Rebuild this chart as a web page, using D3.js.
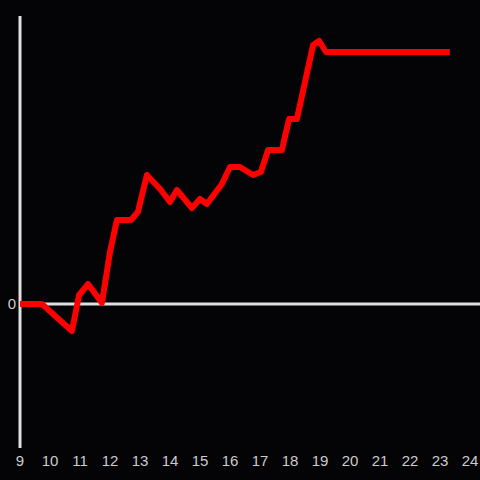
<!DOCTYPE html>
<html>
<head>
<meta charset="utf-8">
<script src="https://cdn.jsdelivr.net/npm/d3@7"></script>
<style>
  html, body { margin: 0; padding: 0; background: #040306; }
  svg { display: block; }
</style>
</head>
<body>
<svg id="chart"></svg>
<script>
// hour of day
const hours = [9, 9.73, 10.73, 10.97, 11.27, 11.73, 12.0, 12.23, 12.7, 12.93, 13.23, 13.67, 14.0, 14.23,
  14.73, 15.0, 15.23, 15.73, 16.0, 16.33, 16.77, 17.03, 17.27, 17.73, 17.97, 18.23, 18.77, 18.97, 19.2, 23.33];
// cumulative value
const values = [0, 0, -27, 9, 20, 1, 52, 84, 84, 92, 129, 115, 102, 114,
  96, 105, 100, 120, 137, 137, 129, 132, 154, 154, 185, 185, 259, 263, 252, 252];
const xTicks = [9, 10, 11, 12, 13, 14, 15, 16, 17, 18, 19, 20, 21, 22, 23, 24];
const yTicks = [0];

const width = 480;
const height = 480;

const svg = d3.select('#chart')
  .attr('width', width)
  .attr('height', height);

svg.append('rect')
  .attr('width', width)
  .attr('height', height)
  .attr('fill', '#040306');

const x = d3.scaleLinear()
  .domain([9, 24])
  .range([20, 470]);

const y = d3.scaleLinear()
  .domain([-144, 288])
  .range([448, 16]);

// vertical axis line
svg.append('line')
  .attr('x1', x(9)).attr('x2', x(9))
  .attr('y1', y(-144)).attr('y2', y(288))
  .attr('stroke', '#e0e0e0')
  .attr('stroke-width', 3);

// zero line
svg.append('line')
  .attr('x1', x(9)).attr('x2', width)
  .attr('y1', y(0)).attr('y2', y(0))
  .attr('stroke', '#e0e0e0')
  .attr('stroke-width', 3);

svg.selectAll('.xlabel')
  .data(xTicks)
  .enter().append('text')
  .attr('class', 'xlabel')
  .attr('x', d => x(d))
  .attr('y', 466)
  .attr('text-anchor', 'middle')
  .attr('fill', '#cccccc')
  .style('font', '15px "Liberation Sans", Arial, sans-serif')
  .text(d => d);

svg.selectAll('.ylabel')
  .data(yTicks)
  .enter().append('text')
  .attr('class', 'ylabel')
  .attr('x', 16)
  .attr('y', d => y(d) + 5)
  .attr('text-anchor', 'end')
  .attr('fill', '#cccccc')
  .style('font', '15px "Liberation Sans", Arial, sans-serif')
  .text(d => d);

const line = d3.line()
  .x((d, i) => x(hours[i]))
  .y(d => y(d));

svg.append('path')
  .datum(values)
  .attr('fill', 'none')
  .attr('stroke', '#ff0000')
  .attr('stroke-width', 6)
  .attr('stroke-linejoin', 'round')
  .attr('d', line);
</script>
</body>
</html>
